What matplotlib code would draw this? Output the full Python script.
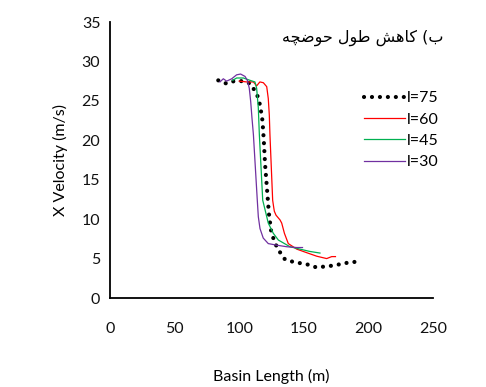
import matplotlib
matplotlib.use("Agg")
import matplotlib.pyplot as plt

# Data
x75 = [83.8, 90, 96, 102, 108.6, 112, 114.8, 116.3, 118, 119, 120, 121, 122, 123, 124.6,
       126.4, 128.5, 131.6, 135.4, 141.4, 147.8, 154.3, 160.2, 166.2, 172.3, 178.6, 184.7, 191]
y75 = [27.6, 27.2, 27.5, 27.5, 27.2, 26.3, 25.4, 24.3, 22.5, 20.1, 17.0, 14.9, 12.8, 10.7, 8.6,
       7.6, 6.7, 5.8, 4.9, 4.6, 4.4, 4.2, 3.85, 4.0, 4.1, 4.3, 4.5, 4.6]

x60 = [100, 105.8, 111, 113.5, 116, 118.7, 121.3, 122.5, 123.3, 123.8, 125.9, 126.7, 127.2,
       128.5, 131.6, 132.9, 135, 138, 144.5, 152.2, 160, 167.7, 171.6, 174.5]
y60 = [27.5, 27.4, 27.4, 26.9, 27.4, 27.3, 26.8, 25.3, 23.2, 20.7, 12.4, 11.5, 11.0,
       10.5, 9.9, 9.5, 8.2, 6.9, 6.2, 5.75, 5.3, 5.0, 5.25, 5.25]

x45 = [95, 98, 103.2, 108.4, 112.2, 113.5, 114.8, 115.6, 118.2, 120, 122.5, 126.4, 130.3,
       139.3, 147, 154.8, 162.5]
y45 = [27.6, 27.9, 27.9, 27.6, 27.4, 26.6, 24.1, 20.7, 12.4, 11.2, 9.5, 8.2, 7.35,
       6.5, 6.2, 5.9, 5.7]

x30 = [85.1, 87.7, 90.3, 94.2, 98, 101.1, 104.5, 106.3, 107.8, 108.9, 109.9, 111, 114,
       114.8, 116.1, 118.6, 122.5, 129, 136.8, 144.5, 149]
y30 = [27.4, 27.8, 27.5, 27.8, 28.3, 28.4, 28.1, 27.6, 26.6, 24.9, 22.8, 20.7, 12.4,
       10.3, 8.8, 7.6, 6.9, 6.7, 6.5, 6.4, 6.4]

labels = ["l=75", "l=60", "l=45", "l=30"]
xticks = [0, 50, 100, 150, 200, 250]
yticks = [0, 5, 10, 15, 20, 25, 30, 35]

# Persian title "ب) کاهش طول حوضچه", pre-shaped presentation forms in visual (left-to-right) order
title_words = ["\uFEEA\uFB7D\uFEBF\uFEEE\uFEA3", "\uFEDD\uFEEE\uFEC3",
               "\uFEB6\uFEEB\uFE8E\uFB90", "(\uFE8F"]

plt.rcParams['font.family'] = ['Lato', 'DejaVu Sans']

fig = plt.figure(figsize=(4.86, 3.87), dpi=100)
ax = fig.add_axes([110/486, 1-298/387, (433-110)/486, (298-22)/387])

ax.plot(x75, y75, color='black', lw=3.0, linestyle=(0, (0.01, 1.9)),
        dash_capstyle='round', label=labels[0])
ax.plot(x60, y60, color='#FF0000', lw=0.9, label=labels[1])
ax.plot(x45, y45, color='#00B050', lw=0.9, label=labels[2])
ax.plot(x30, y30, color='#7030A0', lw=0.9, label=labels[3])

ax.set_xlim(0, 250)
ax.set_ylim(0, 35)
ax.set_xticks(xticks)
ax.set_yticks(yticks)
ax.tick_params(length=0, labelsize=11.5, colors='#111111')
ax.tick_params(axis='x', pad=17)
ax.tick_params(axis='y', pad=7)
for s in ['top', 'right']:
    ax.spines[s].set_visible(False)
for s in ['left', 'bottom']:
    ax.spines[s].set_linewidth(1.3)
    ax.spines[s].set_color('black')

ax.set_xlabel("Basin Length (m)", fontsize=11.5, labelpad=24)
ax.set_ylabel("X Velocity (m/s)", fontsize=11.5, labelpad=10)

leg = ax.legend(loc='upper left', bbox_to_anchor=(364/486, 1-91/387),
                bbox_transform=fig.transFigure, frameon=False, fontsize=11.5,
                handlelength=2.55, handletextpad=0.15, labelspacing=0.45,
                borderaxespad=0, borderpad=0)

fig.text(363/486, 1-38/387, " ".join(title_words), fontsize=11.5,
         family=['DejaVu Sans'], ha='center', va='center')

fig.savefig("out.png", dpi=100)
